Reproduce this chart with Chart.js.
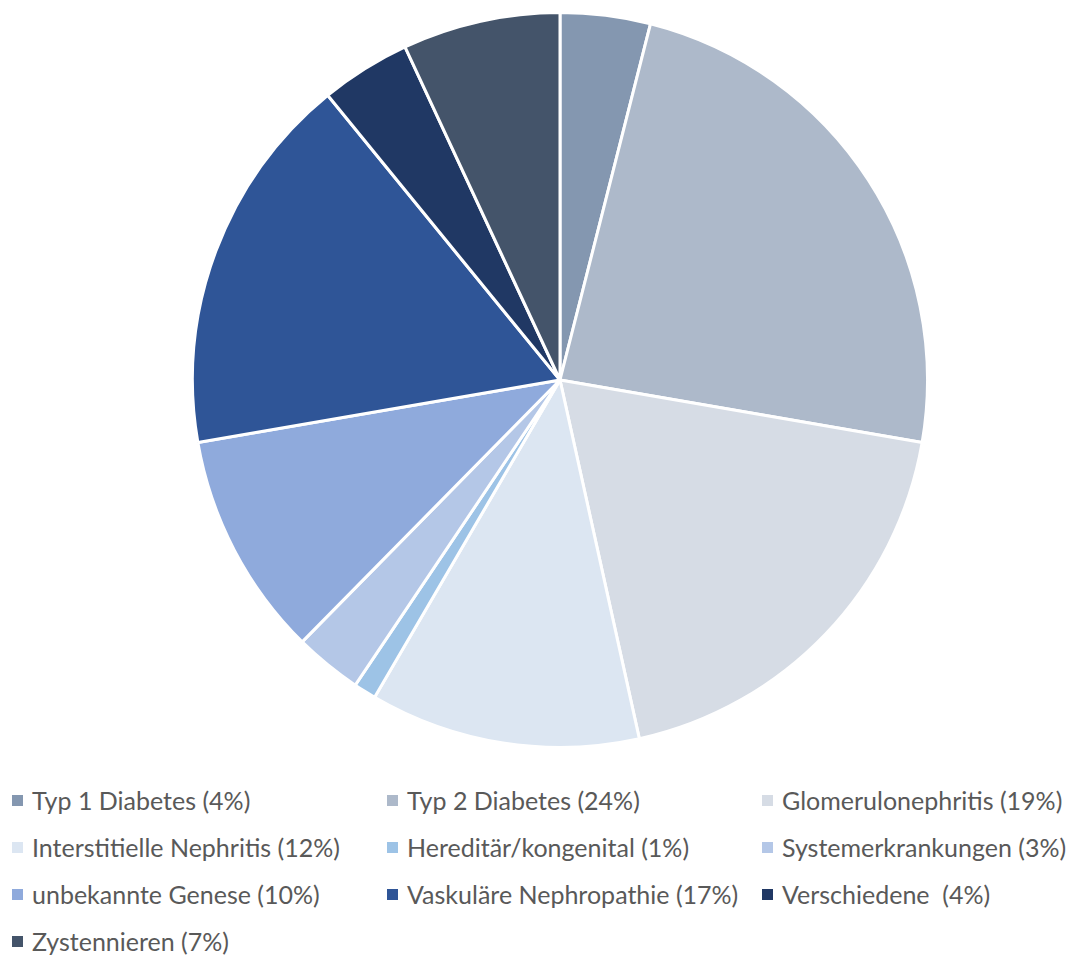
<!DOCTYPE html>
<html lang="de">
<head>
<meta charset="utf-8">
<title>Grunderkrankungen</title>
<script src="https://cdn.jsdelivr.net/npm/chart.js@4/dist/chart.umd.min.js"></script>
<style>
  html, body { margin: 0; padding: 0; background: #fff; }
  body { width: 1082px; height: 958px; position: relative; overflow: hidden; font-family: Lato, "Open Sans", sans-serif; }
  #pieWrap { position: absolute; left: 191px; top: 11px; width: 738px; height: 738px; }
  #legende { position: absolute; left: 12px; top: 784px; display: grid; grid-template-columns: 375px 375px 320px; row-gap: 15px; }
  .eintrag { display: flex; align-items: center; height: 32px; color: #595959; font-size: 25px; white-space: pre; }
  .eintrag span.box { width: 11px; height: 11px; margin-right: 9px; flex: none; }
</style>
</head>
<body>
<div id="pieWrap"><canvas id="graficoPie"></canvas></div>
<div id="legende"></div>
<script>
const kategorien = [
  'Typ 1 Diabetes',
  'Typ 2 Diabetes',
  'Glomerulonephritis',
  'Interstitielle Nephritis',
  'Hereditär/kongenital',
  'Systemerkrankungen',
  'unbekannte Genese',
  'Vaskuläre Nephropathie',
  'Verschiedene ',
  'Zystennieren'
];
const anteile = [4, 24, 19, 12, 1, 3, 10, 17, 4, 7];
const farben = ['#8497b0', '#adb9ca', '#d6dce5', '#dce6f2', '#9dc3e6', '#b4c7e7', '#8faadc', '#2f5597', '#203864', '#44546a'];

const ctx = document.getElementById('graficoPie').getContext('2d');

const grafico = new Chart(ctx, {
  type: 'pie',
  data: {
    labels: kategorien,
    datasets: [{
      data: anteile,
      backgroundColor: farben,
      borderColor: '#ffffff',
      borderWidth: 3
    }]
  },
  options: {
    responsive: true,
    maintainAspectRatio: false,
    animation: false,
    layout: { padding: 0 },
    plugins: {
      legend: { display: false },
      tooltip: { enabled: false }
    }
  }
});

// Legende als HTML unter dem Diagramm
const legende = document.getElementById('legende');
kategorien.forEach((nome, i) => {
  const div = document.createElement('div');
  div.className = 'eintrag';
  div.innerHTML = `<span class="box" style="background:${farben[i]}"></span>${nome} (${anteile[i]}%)`;
  legende.appendChild(div);
});
</script>
</body>
</html>
